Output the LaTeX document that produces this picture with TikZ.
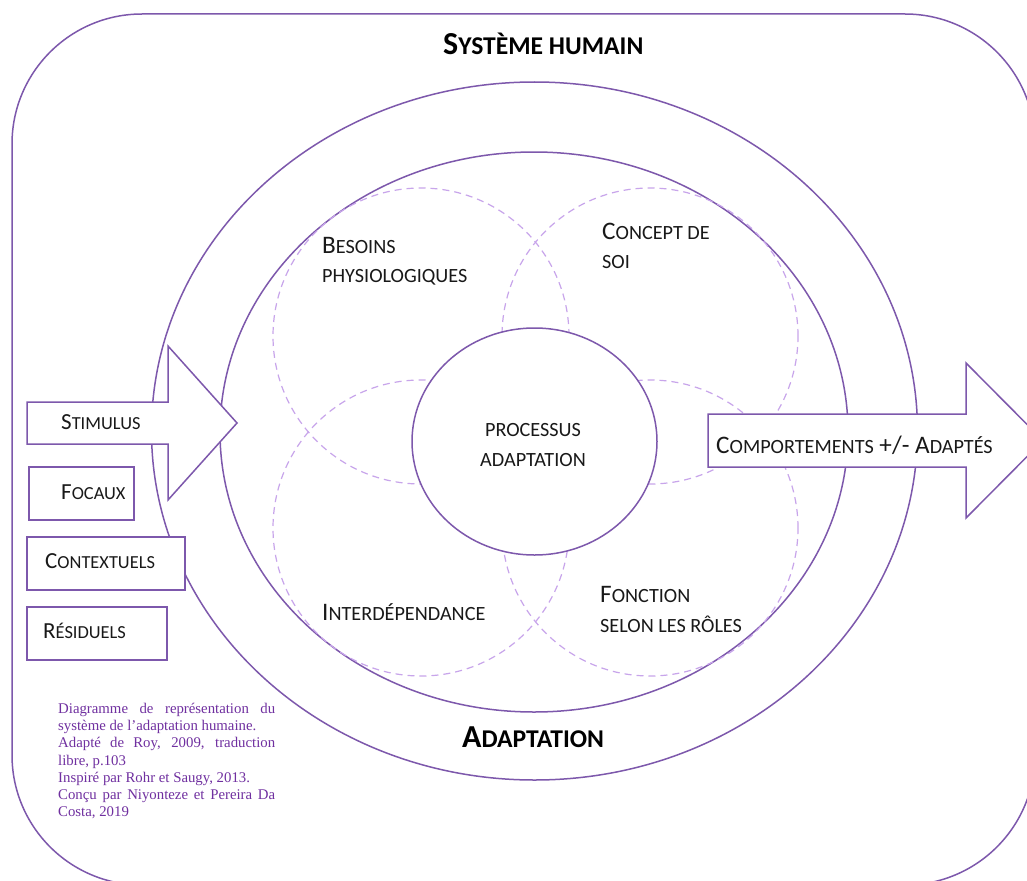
\documentclass[tikz,border=0pt]{standalone}
\usepackage{fontspec}
\setmainfont{Carlito}
\newfontfamily\capfont{Liberation Serif}
\usetikzlibrary{shapes.geometric}
\definecolor{lin}{RGB}{125,88,172}
\definecolor{dsh}{RGB}{200,165,235}
\definecolor{capc}{RGB}{112,48,160}
\definecolor{txt}{RGB}{25,25,25}
\newcommand\smc[1]{{\fontsize{18.4pt}{22pt}\selectfont #1}}
\newcommand\msmc[1]{{\fontsize{20.2pt}{24pt}\selectfont #1}}
\newcommand\bsmc[1]{{\fontsize{25.6pt}{30pt}\selectfont #1}}
\begin{document}
\begin{tikzpicture}[x=1pt,y=-1pt,
  ring/.style={draw=lin, line width=1.5pt, ellipse, inner sep=0pt},
  dcirc/.style={draw=dsh, line width=1.2pt, dash pattern=on 7pt off 5pt, circle, minimum size=296pt, inner sep=0pt},
  lab/.style={anchor=base west, inner sep=0pt, text=txt, font=\fontsize{23pt}{28pt}\selectfont},
  mlab/.style={anchor=base west, inner sep=0pt, text=txt, font=\fontsize{25.2pt}{30pt}\selectfont},
  clab/.style={anchor=base, inner sep=0pt, text=txt, font=\fontsize{25.2pt}{30pt}\selectfont},
  tlab/.style={anchor=base west, inner sep=0pt, text=black, font=\bfseries\fontsize{32pt}{38pt}\selectfont},
  boxs/.style={draw=lin, line width=1.5pt, fill=white, rectangle, inner sep=0pt},
  arrowshape/.style={draw=lin, line width=1.5pt, fill=white, line join=miter}
]
\useasboundingbox (0,0) rectangle (1027,880);
\clip (0,0) rectangle (1027,880);
\fill[white] (0,0) rectangle (1027,880);

% outer system frame
\node[draw=lin, line width=1.5pt, rounded corners=130pt, minimum width=1023pt, minimum height=871pt, inner sep=0pt] (system) at (523.5,449.5) {};

% adaptation rings
\node[ring, minimum width=766pt, minimum height=698pt] (adapt) at (534.5,431) {};
\node[ring, minimum width=628pt, minimum height=560pt] (inner) at (534,432) {};

% four modes
\node[dcirc] (phys) at (421,336) {};
\node[dcirc] (soi) at (650,336) {};
\node[dcirc] (inter) at (421,528) {};
\node[dcirc] (role) at (650,528) {};

% central process
\node[ring, fill=white, minimum width=245pt, minimum height=227pt] (proc) at (534.5,441.5) {};

% arrows
\draw[arrowshape] (27,402) -- (168,402) -- (168,346) -- (237,423) -- (168,500) -- (168,444) -- (27,444) -- cycle;
\draw[arrowshape] (708,414) -- (966,414) -- (966,363) -- (1043,440.5) -- (966,518) -- (966,467) -- (708,467) -- cycle;

% stimulus boxes
\node[boxs, minimum width=105pt, minimum height=53pt] (focbox) at (81.5,493.5) {};
\node[boxs, minimum width=158pt, minimum height=53pt] (ctxbox) at (106,563.5) {};
\node[boxs, minimum width=140pt, minimum height=53pt] (resbox) at (97,633.5) {};

% texts
\node[tlab] (systitle) at (443,55) {S\bsmc{YSTÈME HUMAIN}};
\node[tlab] (adtitle) at (462,747) {A\bsmc{DAPTATION}};
\node[clab] (proc1) at (533,436) {\msmc{PROCESSUS}};
\node[clab] (proc2) at (533,466) {\msmc{ADAPTATION}};
\node[mlab] (phys1) at (322,253) {B\msmc{ESOINS}};
\node[mlab] (phys2) at (322,282) {\msmc{PHYSIOLOGIQUES}};
\node[mlab] (soi1) at (602,239) {C\msmc{ONCEPT DE}};
\node[mlab] (soi2) at (602,268) {\msmc{SOI}};
\node[mlab] (inter1) at (322,620) {I\msmc{NTERDÉPENDANCE}};
\node[mlab] (role1) at (600,602) {F\msmc{ONCTION}};
\node[mlab] (role2) at (600,632) {\msmc{SELON LES RÔLES}};
\node[mlab] (comp) at (716,453) {C\msmc{OMPORTEMENTS} +/- A\msmc{DAPTÉS}};
\node[lab] (stim) at (61,429) {S\smc{TIMULUS}};
\node[lab] (foc) at (61,499) {F\smc{OCAUX}};
\node[lab] (ctx) at (45,568) {C\smc{ONTEXTUELS}};
\node[lab] (res) at (43,638) {R\smc{ÉSIDUELS}};

% caption
\node[anchor=north west, inner sep=0pt, align=left, text=capc, font=\capfont\fontsize{14.8pt}{17.2pt}\selectfont] (caption) at (58,703)
{\makebox[217pt][s]{Diagramme de représentation du}\\
 système de l’adaptation humaine.\\
 \makebox[217pt][s]{Adapté de Roy, 2009, traduction}\\
 libre, p.103\\
 Inspiré par Rohr et Saugy, 2013.\\
 \makebox[217pt][s]{Conçu par Niyonteze et Pereira Da}\\
 Costa, 2019};
\end{tikzpicture}
\end{document}
